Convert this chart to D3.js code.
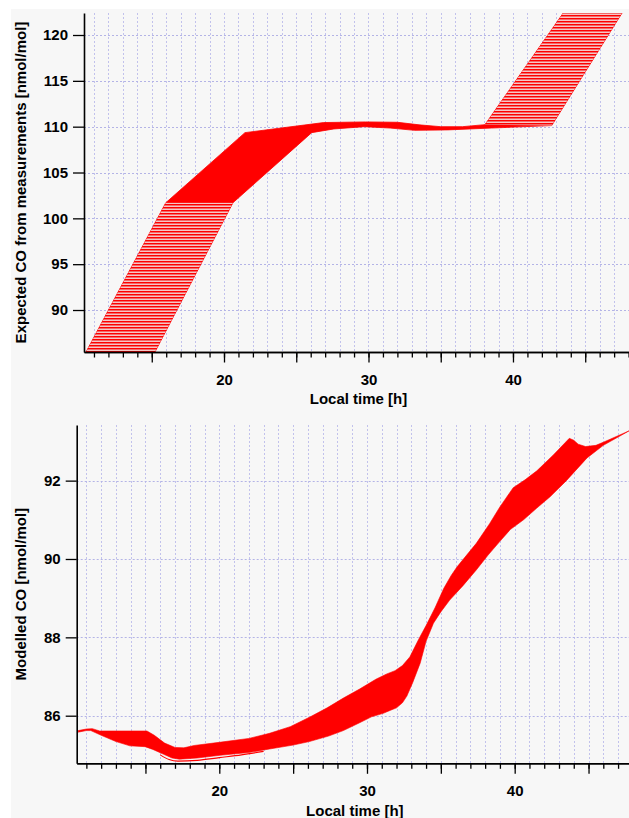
<!DOCTYPE html>
<html><head><meta charset="utf-8">
<script src="https://cdn.jsdelivr.net/npm/d3@7"></script>
<style>
html,body{margin:0;padding:0;background:#fff;}
svg{display:block;}
text{font-family:"Liberation Sans",Arial,Helvetica,sans-serif;font-weight:bold;fill:#000;}
</style></head><body>
<svg id="chart" width="629" height="818"></svg>
<script>
// ---------------- DATA ----------------
// Top panel: envelope of the ensemble of "expected CO" curves [time h, CO nmol/mol]
const expectedUpperEdge = [
  [10.45,85.42],[15.97,101.7],[21.45,109.35],[26.9,110.45],[29.8,110.52],[32.0,110.48],
  [33.5,110.2],[35.0,110.0],[36.5,110.0],[38.06,110.22],[43.48,122.4]
];
const expectedLowerEdge = [
  [15.22,85.42],[20.62,101.7],[26.07,109.35],[27.6,109.75],[29.7,110.0],[31.5,109.85],
  [33.2,109.6],[35.5,109.65],[38.5,109.85],[42.68,110.12],[47.55,122.4]
];
// Bottom panel: envelope of the ensemble of modelled CO curves
const modelledUpperEdge = [
  [10.45,85.62],[11.0,85.66],[11.4,85.67],[11.9,85.61],[15.1,85.61],[15.6,85.50],[16.3,85.30],
  [17.0,85.19],[17.6,85.18],[18.3,85.24],[20.0,85.32],[22.0,85.42],[23.4,85.55],[24.8,85.72],
  [26.1,85.96],[27.3,86.20],[28.4,86.45],[29.5,86.68],[30.6,86.93],[31.3,87.06],[31.9,87.15],
  [32.4,87.28],[32.9,87.50],[33.5,87.95],[34.0,88.30],[34.6,88.75],[35.2,89.25],[35.7,89.58],
  [36.1,89.80],[37.4,90.40],[38.3,90.90],[39.0,91.33],[39.9,91.82],[40.7,92.02],[41.5,92.25],
  [42.6,92.65],[43.7,93.08],[44.0,93.03],[44.3,92.93],[44.8,92.87],[45.5,92.90],[46.0,92.98],
  [47.74,93.27]
];
const modelledLowerEdge = [
  [10.45,85.58],[11.0,85.62],[11.3,85.62],[12.0,85.50],[13.0,85.34],[13.95,85.23],[14.97,85.21],
  [15.5,85.14],[16.2,85.02],[16.8,84.92],[17.3,84.89],[18.5,84.92],[20.05,84.99],[22.0,85.06],
  [23.4,85.15],[25.0,85.25],[26.1,85.34],[27.4,85.48],[28.4,85.62],[29.5,85.82],[30.3,85.97],
  [31.1,86.06],[31.6,86.14],[32.0,86.20],[32.4,86.33],[32.7,86.50],[33.1,86.85],[33.6,87.34],
  [34.0,87.90],[34.5,88.36],[35.0,88.65],[35.6,88.95],[36.5,89.32],[37.4,89.72],[38.2,90.10],
  [39.0,90.45],[39.7,90.75],[40.6,91.00],[41.5,91.30],[42.4,91.59],[43.5,92.00],[44.9,92.58],
  [46.0,92.90],[47.74,93.27]
];
const modelledLowestMember = [
  [16.0,85.00],[16.6,84.88],[17.2,84.84],[18.5,84.86],[20.0,84.93],[21.5,85.00],[23.0,85.09]
];
// Axes
const topYTicks = [90,95,100,105,110,115,120];
const botYTicks = [86,88,90,92];
const xLabelTicks = [20,30,40];
const xMajorTicks = [15,20,25,30,35,40,45];
const xMinorTicks = [11,12,13,14,15,16,17,18,19,20,21,22,23,24,25,26,27,28,29,30,31,32,33,34,35,36,37,38,39,40,41,42,43,44,45,46,47,48];
const xTitle = "Local time [h]";
const topYTitle = "Expected CO from measurements [nmol/mol]";
const botYTitle = "Modelled CO [nmol/mol]";

// ---------------- DRAWING ----------------
const W = 629, H = 818;
const svg = d3.select("#chart");
svg.append("rect").attr("x",11).attr("y",9).attr("width",W-11).attr("height",H-9).attr("fill","#f7f7f7");

const defs = svg.append("defs");
const pat = defs.append("pattern").attr("id","stripes").attr("patternUnits","userSpaceOnUse")
  .attr("width",8).attr("height",3);
pat.append("rect").attr("width",8).attr("height",3).attr("fill","#f6c6c6");
pat.append("rect").attr("y",0).attr("width",8).attr("height",1).attr("fill","#ff0000");
pat.append("rect").attr("y",1).attr("width",8).attr("height",1).attr("fill","#f26a6a");

const RED = "#ff0000";

function panel(cfg){
  const {x, y, yTicks, id} = cfg;
  const [x0,x1] = x.range();
  const [y0,y1] = y.range(); // y0 bottom, y1 top
  const g = svg.append("g");
  defs.append("clipPath").attr("id","clip"+id).append("rect")
    .attr("x",x0).attr("y",y1).attr("width",x1-x0).attr("height",y0-y1);

  // grid
  const grid = g.append("g");
  grid.selectAll("line.v").data(xMinorTicks.filter(t=>t>x.domain()[0] && t<=x.domain()[1])).join("line")
    .attr("x1",d=>Math.round(x(d))+0.5).attr("x2",d=>Math.round(x(d))+0.5)
    .attr("y1",y1).attr("y2",y0)
    .attr("stroke","#c2c2ec").attr("stroke-width",1).attr("stroke-dasharray","2,2");
  grid.selectAll("line.h").data(yTicks).join("line")
    .attr("x1",x0).attr("x2",x1)
    .attr("y1",d=>Math.round(y(d))+0.5).attr("y2",d=>Math.round(y(d))+0.5)
    .attr("stroke","#b4b4e6").attr("stroke-width",1).attr("stroke-dasharray","2,2");

  const plot = g.append("g").attr("clip-path","url(#clip"+id+")");
  cfg.draw(plot);

  // y axis
  const ya = g.append("g").attr("transform",`translate(${x0},0)`)
    .call(d3.axisLeft(y).tickValues(yTicks).tickSize(11).tickPadding(5).tickSizeOuter(0).tickFormat(d3.format("d")));
  // x axes: minor then major with labels
  const xa1 = g.append("g").attr("transform",`translate(0,${y0})`)
    .call(d3.axisBottom(x).tickValues(xMinorTicks.filter(t=>t<=x.domain()[1])).tickSize(5.5).tickFormat("").tickSizeOuter(0));
  const xa2 = g.append("g").attr("transform",`translate(0,${y0})`)
    .call(d3.axisBottom(x).tickValues(xMajorTicks).tickSize(10.5).tickPadding(12).tickSizeOuter(0)
      .tickFormat(d=>xLabelTicks.includes(d)?d3.format("d")(d):""));
  [ya,xa1,xa2].forEach(a=>{
    a.attr("font-size",null).attr("font-family",null);
    a.selectAll("path.domain").attr("stroke","#000").attr("stroke-width",1.6);
    a.selectAll(".tick line").attr("stroke","#000").attr("stroke-width",1.3);
    a.selectAll("text").style("font-size","15px").attr("fill","#000");
  });
  xa2.selectAll("text").attr("dy","0.71em");
  // titles
  g.append("text").attr("x",(x0+x1)/2+2).attr("y",y0+cfg.xTitleOffset)
    .attr("text-anchor","middle").style("font-size","15px").text(xTitle);
  g.append("text").attr("transform",`translate(26,${(y0+y1)/2}) rotate(-90)`)
    .attr("text-anchor","middle").style("font-size","15px").text(cfg.yTitle);
}

const poly = (x,y)=>pts=>"M"+pts.map(d=>x(d[0])+","+y(d[1])).join("L")+"Z";

// Top panel
const topX = d3.scaleLinear().domain([10.31,48.03]).range([84,629]);
const topY = d3.scaleLinear().domain([85.42,122.4]).range([352,13]);
panel({id:"t", x:topX, y:topY, yTicks:topYTicks, yTitle:topYTitle, xTitleOffset:52,
  draw: p=>{
    const P = poly(topX,topY);
    const band = expectedUpperEdge.concat(expectedLowerEdge.slice().reverse());
    p.append("path").attr("d",P(band)).attr("fill",RED).attr("stroke",RED).attr("stroke-width",0.8);
    const lowLeft = expectedUpperEdge.slice(0,2).concat(expectedLowerEdge.slice(0,2).reverse());
    const upRight = expectedUpperEdge.slice(-2).concat(expectedLowerEdge.slice(-2).reverse());
    [lowLeft,upRight].forEach(s=>p.append("path").attr("d",P(s)).attr("fill","url(#stripes)"));
  }});

// Bottom panel
const botX = d3.scaleLinear().domain([10.345,47.74]).range([76.7,629]);
const botY = d3.scaleLinear().domain([84.785,93.42]).range([763.3,425]);
panel({id:"b", x:botX, y:botY, yTicks:botYTicks, yTitle:botYTitle, xTitleOffset:52.5,
  draw: p=>{
    const P = poly(botX,botY);
    const band = modelledUpperEdge.concat(modelledLowerEdge.slice().reverse());
    p.append("path").attr("d",P(band)).attr("fill",RED).attr("stroke",RED).attr("stroke-width",0.6);
    p.append("path").datum(modelledLowestMember)
      .attr("d",d3.line().x(d=>botX(d[0])).y(d=>botY(d[1])).curve(d3.curveMonotoneX))
      .attr("fill","none").attr("stroke",RED).attr("stroke-width",1.1);
  }});
</script>
</body></html>
